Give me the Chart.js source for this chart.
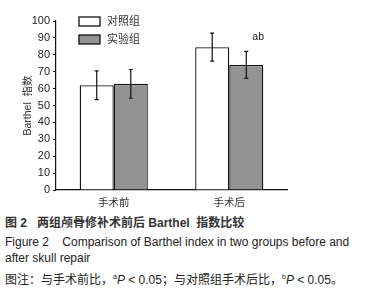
<!DOCTYPE html>
<html>
<head>
<meta charset="utf-8">
<script src="https://cdn.jsdelivr.net/npm/chart.js@4"></script>
<style>
body { margin: 0; background: #fff; width: 369px; height: 300px; overflow: hidden; position: relative;
  font-family: "Liberation Sans", "Noto Sans CJK SC", sans-serif; color: #222; }
#wrap { position: absolute; left: 0; top: 0; width: 369px; height: 212px; }
.cap { position: absolute; left: 5px; font-size: 12px; white-space: nowrap; line-height: 14px; }
</style>
</head>
<body>
<div id="wrap"><canvas id="grafico"></canvas></div>
<div class="cap" style="top:216px;font-weight:bold;color:#333">图 2&nbsp;&nbsp;&nbsp;两组颅骨修补术前后 Barthel&nbsp;&nbsp;指数比较</div>
<div class="cap" style="top:235px">Figure 2&nbsp;&nbsp;&nbsp;&nbsp;Comparison of Barthel index in two groups before and</div>
<div class="cap" style="top:251px">after skull repair</div>
<div class="cap" style="top:270px;font-size:12px">图注：与手术前比，<sup style="font-size:7px">a</sup><i>P</i> &lt; 0.05；与对照组手术后比，<sup style="font-size:7px">b</sup><i>P</i> &lt; 0.05。</div>
<script>
var categorias = ['手术前', '手术后'];
var controle = [62, 84.5];
var controleDP = [8.5, 8.3];
var experimental = [62.8, 74];
var experimentalDP = [8.5, 8];
var marcas = ['', 'ab'];

var fonte = '"Liberation Sans", "Noto Sans CJK SC", sans-serif';

// barras de erro e legenda desenhadas por cima
var extras = {
    id: 'extras',
    afterDatasetsDraw: function (chart) {
        var c = chart.ctx;
        var y = chart.scales.y;
        c.save();
        c.strokeStyle = '#111';
        c.lineWidth = 1.2;
        chart.data.datasets.forEach(function (ds, i) {
            var meta = chart.getDatasetMeta(i);
            meta.data.forEach(function (bar, j) {
                var top = y.getPixelForValue(ds.data[j] + ds.dp[j]);
                var bot = y.getPixelForValue(ds.data[j] - ds.dp[j]);
                c.beginPath();
                c.moveTo(bar.x, top); c.lineTo(bar.x, bot);
                c.moveTo(bar.x - 2, top); c.lineTo(bar.x + 2, top);
                c.moveTo(bar.x - 2, bot); c.lineTo(bar.x + 2, bot);
                c.stroke();
                if (i === 1 && marcas[j]) {
                    c.fillStyle = '#222';
                    c.font = '10.5px ' + fonte;
                    c.textAlign = 'left';
                    c.textBaseline = 'alphabetic';
                    c.fillText(marcas[j], bar.x + 6, top - 11);
                }
            });
        });
        // legenda
        var x0 = chart.chartArea.left + 23;
        chart.data.datasets.forEach(function (ds, i) {
            var yy = 17 + i * 18;
            c.fillStyle = ds.backgroundColor;
            c.fillRect(x0, yy, 21, 9);
            c.strokeStyle = '#111';
            c.lineWidth = 1.3;
            c.strokeRect(x0, yy, 21, 9);
            c.fillStyle = '#333';
            c.font = '11px ' + fonte;
            c.textAlign = 'left';
            c.textBaseline = 'middle';
            c.fillText(ds.label, x0 + 28, yy + 5);
        });
        c.restore();
    }
};

var ctx = document.getElementById('grafico').getContext('2d');
var grafico = new Chart(ctx, {
    type: 'bar',
    data: {
        labels: categorias,
        datasets: [{
            label: '对照组',
            data: controle,
            dp: controleDP,
            backgroundColor: '#ffffff',
            borderColor: '#111111',
            borderWidth: 1.3,
            categoryPercentage: 0.59,
            barPercentage: 1.0
        }, {
            label: '实验组',
            data: experimental,
            dp: experimentalDP,
            backgroundColor: '#939393',
            borderColor: '#111111',
            borderWidth: 1.3,
            categoryPercentage: 0.59,
            barPercentage: 1.0
        }]
    },
    options: {
        responsive: true,
        maintainAspectRatio: false,
        animation: false,
        layout: { padding: { top: 21, right: 82, left: 22, bottom: 0 } },
        plugins: { legend: { display: false }, tooltip: { enabled: false } },
        scales: {
            x: {
                grid: { display: false, drawTicks: false },
                border: { color: '#111', width: 1.2 },
                ticks: { color: '#333', font: { family: fonte, size: 10.5 }, padding: 7 },
                afterFit: function (s) { s.height = 22; }
            },
            y: {
                min: 0,
                max: 100,
                grid: { display: true, drawOnChartArea: false, tickLength: 3, color: '#111' },
                border: { color: '#111', width: 1.2 },
                ticks: { stepSize: 10, color: '#222', font: { family: fonte, size: 11 }, padding: 3 },
                title: { display: true, text: 'Barthel  指数', color: '#333', font: { family: fonte, size: 10.5 }, padding: 0 },
                afterFit: function (s) { s.width = 34; }
            }
        }
    },
    plugins: [extras]
});
</script>
</body>
</html>
